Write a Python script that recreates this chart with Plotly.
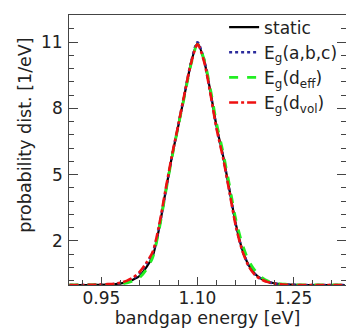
import plotly.graph_objects as go

energy = [0.90, 0.91, 0.92, 0.93, 0.94, 0.95, 0.96, 0.97, 0.98, 0.99,
          1.00, 1.01, 1.02, 1.03, 1.04, 1.05, 1.06, 1.07, 1.08, 1.09,
          1.10, 1.11, 1.12, 1.13, 1.14, 1.15, 1.16, 1.17, 1.18, 1.19,
          1.20, 1.21, 1.22, 1.23, 1.24, 1.25, 1.26, 1.27, 1.28, 1.29,
          1.30, 1.31, 1.32, 1.33]

static = [0.0, 0.0, 0.0, 0.0, 0.01, 0.01, 0.02, 0.03, 0.07, 0.13,
          0.25, 0.42, 0.80, 1.30, 2.55, 4.20, 5.80, 7.20, 8.65, 10.05,
          10.95, 10.20, 8.80, 7.15, 5.85, 4.30, 2.75, 1.60, 0.90, 0.50,
          0.28, 0.15, 0.08, 0.04, 0.02, 0.01, 0.0, 0.0, 0.0, 0.0,
          0.0, 0.0, 0.0, 0.0]

eg_abc = [0.0, 0.0, 0.0, 0.01, 0.01, 0.02, 0.03, 0.05, 0.09, 0.17,
          0.30, 0.55, 0.95, 1.45, 2.60, 4.20, 5.80, 7.25, 8.70, 10.10,
          11.00, 10.25, 8.75, 7.10, 5.80, 4.25, 2.70, 1.58, 0.88, 0.48,
          0.27, 0.14, 0.07, 0.04, 0.02, 0.01, 0.0, 0.0, 0.0, 0.0,
          0.0, 0.0, 0.0, 0.0]

eg_deff = [0.0, 0.0, 0.0, 0.0, 0.0, 0.01, 0.01, 0.02, 0.05, 0.10,
           0.20, 0.35, 0.70, 1.25, 2.50, 4.15, 5.75, 7.20, 8.60, 10.00,
           10.90, 10.25, 8.90, 7.30, 6.00, 4.50, 2.95, 1.85, 1.10, 0.65,
           0.35, 0.18, 0.10, 0.05, 0.03, 0.01, 0.0, 0.0, 0.0, 0.0,
           0.0, 0.0, 0.0, 0.0]

eg_dvol = [0.0, 0.0, 0.0, 0.01, 0.01, 0.02, 0.04, 0.06, 0.10, 0.20,
           0.35, 0.60, 1.00, 1.50, 2.70, 4.30, 5.85, 7.25, 8.70, 10.05,
           10.90, 10.15, 8.70, 7.05, 5.75, 4.20, 2.65, 1.55, 0.85, 0.45,
           0.25, 0.13, 0.07, 0.03, 0.01, 0.0, 0.0, 0.0, 0.0, 0.0,
           0.0, 0.0, 0.0, 0.0]

y_ticks = [2, 5, 8, 11]
x_ticks = [0.95, 1.10, 1.25]
x_tick_text = ["0.95", "1.10", "1.25"]

names = ["static", "E<sub>g</sub>(a,b,c)", "E<sub>g</sub>(d<sub>eff</sub>)", "E<sub>g</sub>(d<sub>vol</sub>)"]
series = [static, eg_abc, eg_deff, eg_dvol]
colors = ["#000000", "#2b2b9c", "#22ee22", "#ee1111"]
dashes = ["solid", "dot", "dash", "dashdot"]
widths = [2.2, 2.5, 2.8, 2.6]

fig = go.Figure()
for nm, ys, c, d, w in zip(names, series, colors, dashes, widths):
    fig.add_trace(go.Scatter(x=energy, y=ys, mode="lines", name=nm,
                             line=dict(color=c, dash=d, width=w, shape="spline", smoothing=0.8)))

font = "DejaVu Sans, Verdana, sans-serif"
axcol = "#444"
txtcol = "#222"
fig.update_layout(
    width=346, height=328,
    margin=dict(l=69, r=0, t=15, b=43),
    paper_bgcolor="white", plot_bgcolor="white",
    font=dict(family=font, size=17, color=txtcol),
    showlegend=True,
    legend=dict(x=0.56, y=1.02, xanchor="left", yanchor="top",
                bgcolor="rgba(255,255,255,0)", font=dict(size=17, color=txtcol),
                tracegroupgap=0, itemwidth=30),
    xaxis=dict(range=[0.8993, 1.332], tickmode="array", tickvals=x_ticks,
               ticktext=x_tick_text, ticks="inside", ticklen=8, tickwidth=1,
               tickcolor=axcol, showline=True, linecolor=axcol, linewidth=1, mirror=True,
               showgrid=False, zeroline=False,
               minor=dict(dtick=0.03, tick0=0.95, ticks="inside", ticklen=5, tickcolor=axcol, showgrid=False),
               title=dict(text="bandgap energy [eV]", standoff=0, font=dict(size=17.5)),
               tickfont=dict(size=17), ticklabelstandoff=-2),
    yaxis=dict(range=[0, 12.23], tickmode="array", tickvals=y_ticks, ticks="inside",
               ticklen=9, tickwidth=1, tickcolor=axcol, showline=True, linecolor=axcol,
               linewidth=1, mirror="ticks", showgrid=False, zeroline=False, showticklabels=False,
               minor=dict(dtick=0.6, tick0=2, ticks="inside", ticklen=5, tickcolor=axcol, showgrid=False)),
)

for v in y_ticks:
    fig.add_annotation(x=-0.016, xref="paper", y=v, yref="y", text=str(v), showarrow=False,
                       xanchor="right", yanchor="middle", font=dict(size=17, color=txtcol))

fig.add_annotation(x=-0.159, xref="paper", y=0.556, yref="paper", text="probability dist. [1/eV]",
                   textangle=-90, showarrow=False, xanchor="center", yanchor="middle",
                   font=dict(size=17.5, color=txtcol))

fig.write_html("out.html", config={"displayModeBar": False},
               post_script="document.body.style.margin='0';")
